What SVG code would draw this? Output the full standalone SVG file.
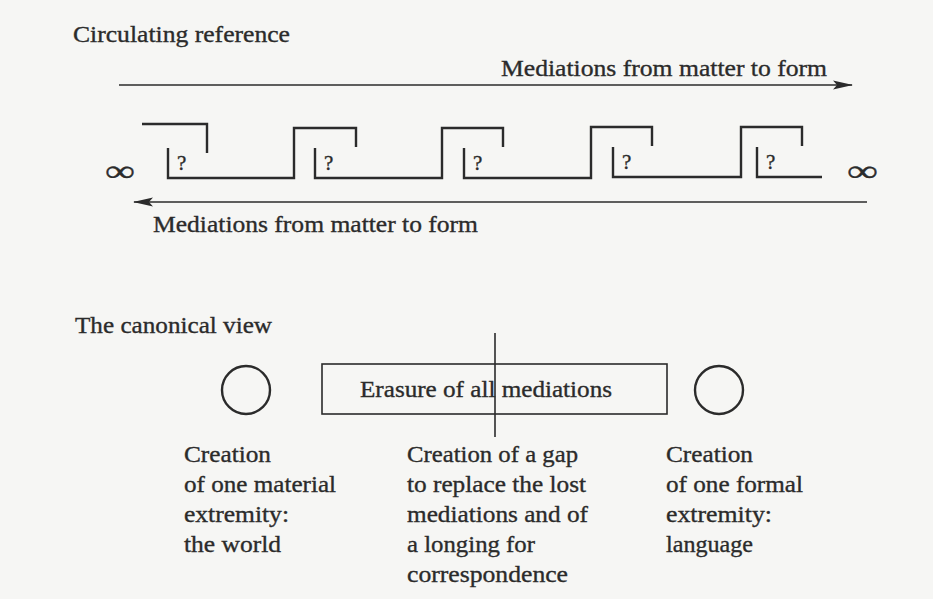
<svg xmlns="http://www.w3.org/2000/svg" width="933" height="599" viewBox="0 0 933 599">
  <style>
    .line { fill: none; stroke: #2b2b2b; stroke-width: 2.4; }
    .thin { fill: none; stroke: #2b2b2b; stroke-width: 1.6; }
    .txt { font-family: "Liberation Serif", "Times New Roman", serif; font-size: 24px; fill: #2b2b2b; stroke: #2b2b2b; stroke-width: 0.35px; }
  </style>
  <defs>
    <marker id="arrow" viewBox="0 0 20 10" refX="19" refY="5" markerWidth="20" markerHeight="10" markerUnits="userSpaceOnUse" orient="auto">
      <path d="M0,0.5 L20,5 L0,9.5 L4,5 Z" fill="#2b2b2b"/>
    </marker>
  </defs>
  <rect x="0" y="0" width="933" height="599" fill="#f6f6f4"/>

  <g class="txt">

  <!-- Upper scheme: circulating reference -->
  <g id="title-circulating">
    <text x="73" y="42" textLength="217" lengthAdjust="spacingAndGlyphs">Circulating reference</text>
  </g>

  <g id="connectors">
    <line class="thin" x1="119" y1="85" x2="852" y2="85" marker-end="url(#arrow)"/>
    <line class="thin" x1="867" y1="202" x2="134" y2="202" marker-end="url(#arrow)"/>
  </g>

  <g id="label-forward">
    <text x="501" y="76" textLength="326" lengthAdjust="spacingAndGlyphs">Mediations from matter to form</text>
  </g>
  <g id="label-backward">
    <text x="153" y="232" textLength="325" lengthAdjust="spacingAndGlyphs">Mediations from matter to form</text>
  </g>

  <g id="infinity-left" font-size="30">
    <text x="105" y="181" textLength="30" lengthAdjust="spacingAndGlyphs">∞</text>
  </g>
  <g id="infinity-right" font-size="30">
    <text x="847" y="181" textLength="31" lengthAdjust="spacingAndGlyphs">∞</text>
  </g>

  <!-- chain of mediations -->
  <g id="step-1">
    <path class="line" d="M142,124 H207 V153"/>
    <path class="line" d="M168,148 V178 H294 V128 H356 V147"/>
    <text x="177" y="170" font-size="21">?</text>
  </g>
  <g id="step-2">
    <path class="line" d="M315,148 V178 H442 V128 H503 V147"/>
    <text x="324" y="170" font-size="21">?</text>
  </g>
  <g id="step-3">
    <path class="line" d="M464,148 V178 H591 V127 H652 V146"/>
    <text x="473" y="170" font-size="21">?</text>
  </g>
  <g id="step-4">
    <path class="line" d="M613,147 V177 H741 V127 H802 V146"/>
    <text x="622" y="169" font-size="21">?</text>
  </g>
  <g id="step-5">
    <path class="line" d="M757,147 V177 H822"/>
    <text x="766" y="169" font-size="21">?</text>
  </g>

  <!-- Lower scheme: canonical view -->
  <g id="title-canonical">
    <text x="75" y="333" textLength="197" lengthAdjust="spacingAndGlyphs">The canonical view</text>
  </g>

  <g id="world">
    <circle class="line" cx="246" cy="390" r="24"/>
    <text x="184" y="462" textLength="87" lengthAdjust="spacingAndGlyphs">Creation</text>
    <text x="184" y="492" textLength="152" lengthAdjust="spacingAndGlyphs">of one material</text>
    <text x="184" y="522" textLength="105" lengthAdjust="spacingAndGlyphs">extremity:</text>
    <text x="184" y="552" textLength="97" lengthAdjust="spacingAndGlyphs">the world</text>
  </g>

  <g id="erasure">
    <rect class="thin" x="322" y="364" width="345" height="50"/>
    <line class="thin" x1="495" y1="333" x2="495" y2="437"/>
    <text x="360" y="397" textLength="252" lengthAdjust="spacingAndGlyphs">Erasure of all mediations</text>
    <text x="407" y="462" textLength="171" lengthAdjust="spacingAndGlyphs">Creation of a gap</text>
    <text x="407" y="492" textLength="179" lengthAdjust="spacingAndGlyphs">to replace the lost</text>
    <text x="407" y="522" textLength="181" lengthAdjust="spacingAndGlyphs">mediations and of</text>
    <text x="407" y="552" textLength="128" lengthAdjust="spacingAndGlyphs">a longing for</text>
    <text x="407" y="582" textLength="161" lengthAdjust="spacingAndGlyphs">correspondence</text>
  </g>

  <g id="language">
    <circle class="line" cx="719" cy="390" r="24"/>
    <text x="666" y="462" textLength="87" lengthAdjust="spacingAndGlyphs">Creation</text>
    <text x="666" y="492" textLength="137" lengthAdjust="spacingAndGlyphs">of one formal</text>
    <text x="666" y="522" textLength="106" lengthAdjust="spacingAndGlyphs">extremity:</text>
    <text x="666" y="552" textLength="87" lengthAdjust="spacingAndGlyphs">language</text>
  </g>

  </g>
</svg>
